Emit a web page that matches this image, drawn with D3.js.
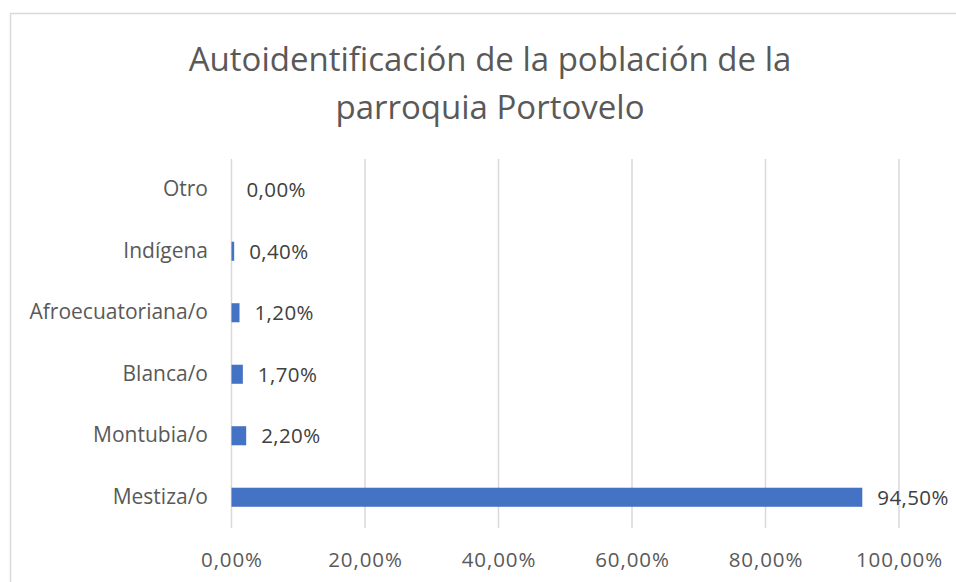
<!DOCTYPE html>
<html>
<head>
<meta charset="utf-8">
<script src="https://cdn.jsdelivr.net/npm/d3@7"></script>
<style>
  body { margin: 0; background: #fff; }
  svg { display: block; font-family: "Open Sans", sans-serif; }
</style>
</head>
<body>
<svg id="chart" width="956" height="582"></svg>
<script>
const categories = ["Otro", "Indígena", "Afroecuatoriana/o", "Blanca/o", "Montubia/o", "Mestiza/o"];
const values = [0.0, 0.4, 1.2, 1.7, 2.2, 94.5];
const xTicks = [0, 20, 40, 60, 80, 100];
const titleLines = ["Autoidentificación de la población de la", "parroquia Portovelo"];

const data = categories.map((c, i) => ({ cat: c, val: values[i] }));
const fmt = v => v.toFixed(2).replace(".", ",") + "%";

const svg = d3.select("svg#chart");

// chart border
svg.append("rect")
  .attr("x", 10.5).attr("y", 13.5)
  .attr("width", 970).attr("height", 600)
  .attr("fill", "#fff")
  .attr("stroke", "#d9d9d9")
  .attr("stroke-width", 1.5);

const xScale = d3.scaleLinear().domain([0, 100]).range([231.5, 899]);
const yScale = d3.scaleBand().domain(categories).range([159, 528]).paddingInner(0.69).paddingOuter(0.345);

// title
svg.append("g")
  .selectAll("text")
  .data(titleLines)
  .enter()
  .append("text")
  .attr("x", 490)
  .attr("y", (d, i) => 71 + i * 48)
  .attr("text-anchor", "middle")
  .attr("fill", "#595959")
  .style("font-size", "33px")
  .text(d => d);

// gridlines
svg.append("g")
  .selectAll("line")
  .data(xTicks)
  .enter()
  .append("line")
  .attr("x1", d => xScale(d)).attr("x2", d => xScale(d))
  .attr("y1", 159).attr("y2", 528)
  .attr("stroke", "#d9d9d9")
  .attr("stroke-width", 1.5);

// x axis labels
const xAxis = d3.axisBottom(xScale).tickValues(xTicks).tickFormat(fmt).tickSize(0).tickPadding(0);
const gx = svg.append("g").attr("transform", "translate(0,552)").call(xAxis);
gx.select(".domain").remove();
gx.selectAll("text")
  .attr("fill", "#595959")
  .style("font-size", "20.5px")
  .style("letter-spacing", "0.9px")
  .style("font-family", "'Open Sans', sans-serif");

// y axis labels
const yAxis = d3.axisLeft(yScale).tickSize(0).tickPadding(0);
const gy = svg.append("g").attr("transform", "translate(208,0)").call(yAxis);
gy.select(".domain").remove();
gy.selectAll("text")
  .attr("fill", "#595959")
  .style("font-size", "21px")
  .style("font-family", "'Open Sans', sans-serif");

// bars
svg.append("g")
  .selectAll("rect")
  .data(data)
  .enter()
  .append("rect")
  .attr("x", xScale(0))
  .attr("y", d => yScale(d.cat))
  .attr("width", d => xScale(d.val) - xScale(0))
  .attr("height", yScale.bandwidth())
  .attr("fill", "#4472c4");

// data labels
svg.append("g")
  .selectAll("text")
  .data(data)
  .enter()
  .append("text")
  .attr("x", d => xScale(d.val) + 15)
  .attr("y", d => yScale(d.cat) + yScale.bandwidth() / 2)
  .attr("dy", "0.36em")
  .attr("fill", "#404040")
  .style("font-size", "20.5px")
  .style("letter-spacing", "0.4px")
  .text(d => fmt(d.val));
</script>
</body>
</html>
